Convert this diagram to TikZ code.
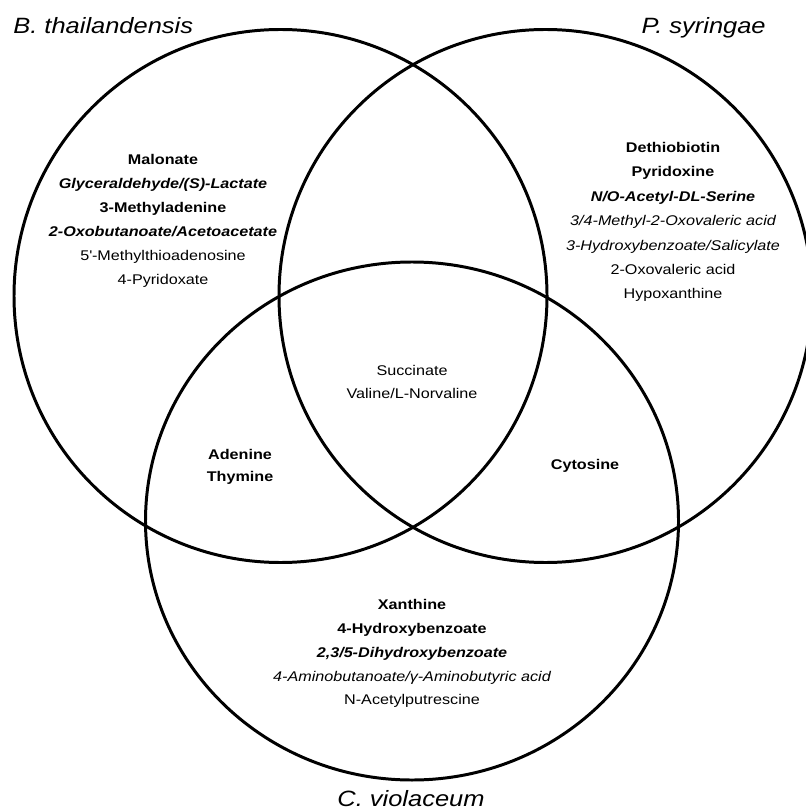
\documentclass[tikz,border=0pt]{standalone}
\usepackage{fontspec}
\setmainfont{Liberation Sans}[FakeStretch=1.15]
\usepackage{tikz}
\usetikzlibrary{calc,positioning}
\tikzset{
    set/.style={line width=1.7pt},
    item/.style={align=center, inner sep=0pt, font=\fontsize{8}{13.6}\selectfont},
    species/.style={inner sep=0pt, font=\fontsize{12.6}{14}\selectfont\itshape},
}

\begin{document}
\begin{tikzpicture}[x=0.02cm,y=-0.02cm]
    \useasboundingbox (0,0) rectangle (805,810);
    \coordinate (B) at (280.5,296);
    \coordinate (P) at (545.5,296);
    \coordinate (C) at (412,521);
    \draw[set] (B) circle[radius=266.5];
    \draw[set] (P) circle[radius=266.5];
    \draw[set] (C) ellipse[x radius=266.5, y radius=259];
    \node[species, anchor=base west] (Bt) at (13,34) {B. thailandensis};
    \node[species, anchor=base east] (Ps) at (766,34) {P. syringae};
    \node[species, anchor=base] (Cv) at (411,806) {C. violaceum};
    \node[item] (Bonly) at (163,221) {\bfseries Malonate\\
        {\bfseries\itshape Glyceraldehyde/(S)-Lactate}\\
        {\bfseries 3-Methyladenine}\\
        {\bfseries\itshape 2-Oxobutanoate/Acetoacetate}\\
        5\textquotesingle-Methylthioadenosine\\
        4-Pyridoxate};
    \node[item, font=\fontsize{8}{13.9}\selectfont] (Ponly) at (673,222) {\bfseries Dethiobiotin\\
        {\bfseries Pyridoxine}\\
        {\bfseries\itshape N/O-Acetyl-DL-Serine}\\
        {\itshape 3/4-Methyl-2-Oxovaleric acid}\\
        {\itshape 3-Hydroxybenzoate/Salicylate}\\
        2-Oxovaleric acid\\
        Hypoxanthine};
    \node[item] (BPC) at (412,382) {Succinate\\ Valine/L-Norvaline};
    \node[item, font=\fontsize{8}{12.5}\selectfont\bfseries] (BC) at (240,467) {Adenine\\ Thymine};
    \node[item, font=\fontsize{8}{13.6}\selectfont\bfseries] (PC) at (585,466) {Cytosine};
    \node[item] (Conly) at (412,653.5) {\bfseries Xanthine\\
        {\bfseries 4-Hydroxybenzoate}\\
        {\bfseries\itshape 2,3/5-Dihydroxybenzoate}\\
        {\itshape 4-Aminobutanoate/γ-Aminobutyric acid}\\
        N-Acetylputrescine};
\end{tikzpicture}
\end{document}
